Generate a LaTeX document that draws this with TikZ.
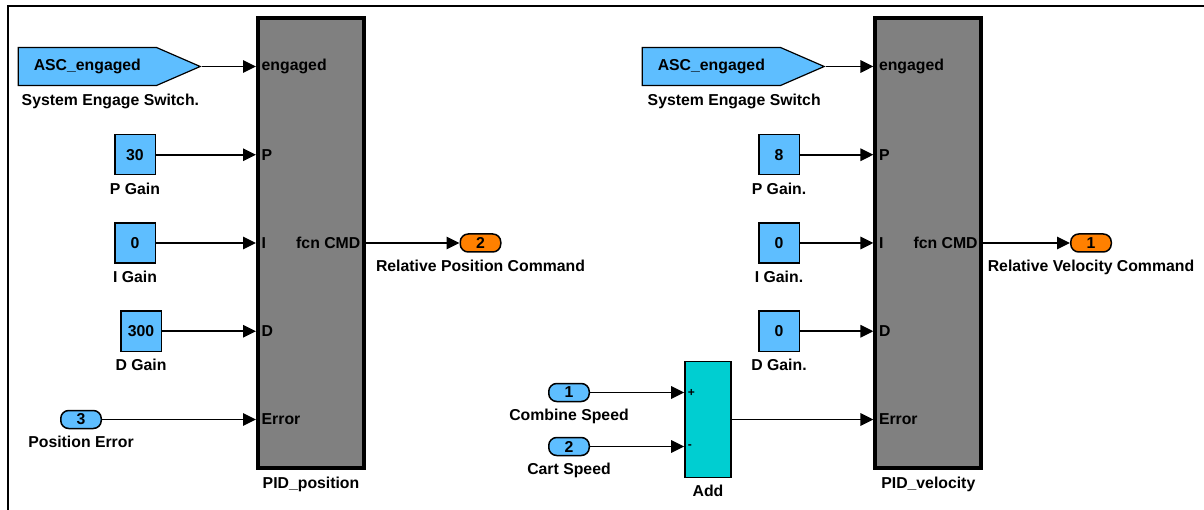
\documentclass[tikz,border=0pt]{standalone}
\usepackage{fontspec}
\setmainfont{Liberation Sans}
\usetikzlibrary{arrows.meta,positioning,shapes.symbols}
\definecolor{SimInk}{HTML}{000000}
\definecolor{SimBlue}{HTML}{5EBEFF}
\definecolor{SimOrange}{HTML}{FF8000}
\definecolor{SimGray}{HTML}{808080}
\definecolor{SimCyan}{HTML}{00CED1}
\tikzset{
  every node/.style={font=\fontsize{15.8}{18}\selectfont\bfseries, text=SimInk},
  pidblock/.style={draw=SimInk, line width=4pt, fill=SimGray, minimum width=106pt, minimum height=450pt, inner sep=0},
  constblock/.style={draw=SimInk, line width=1.5pt, fill=SimBlue, minimum width=40.5pt, minimum height=40pt, inner sep=0},
  inport/.style={draw=SimInk, line width=1.5pt, fill=SimBlue, rounded corners=8pt, minimum width=40.5pt, minimum height=18pt, inner sep=0},
  outport/.style={inport, fill=SimOrange},
  gototag/.style={shape=signal, signal to=east, signal from=nowhere, signal pointer angle=47, draw=SimInk, line width=1.2pt, fill=SimBlue, minimum width=182pt, minimum height=38pt, inner sep=0},
  sumblock/.style={draw=SimInk, line width=1.5pt, fill=SimCyan, minimum width=46pt, minimum height=116pt, inner sep=0},
  portin/.style={anchor=west, inner xsep=5.5pt, inner ysep=0},
  portout/.style={anchor=east, inner xsep=5.5pt, inner ysep=0},
  sumsign/.style={portin, inner xsep=3.5pt, font=\fontsize{12}{14}\selectfont\bfseries},
  blocklabel/.style={inner sep=0},
  wire/.style={-{Triangle[length=13pt,width=12.5pt]}, draw=SimInk, line width=1.7pt},
  frame/.style={draw=SimInk, line width=2.5pt},
}

\begin{document}
\begin{tikzpicture}[x=1pt,y=-1pt]
  \useasboundingbox (0,0) rectangle (1204,510);
  % Window edge
  \draw[frame] (8,510) -- (8,6) -- (1204,6);

  % PID blocks
  \node[pidblock] (pidA) at (311,243) {};
  \node[pidblock] (pidB) at (928.3,243) {};
  \node[blocklabel, below=7pt of pidA] (lblPidA) {PID\_position};
  \node[blocklabel, below=7pt of pidB] (lblPidB) {PID\_velocity};

  % Port names inside both blocks
  \foreach \blk/\x in {A/256, B/873.3} {
    \foreach \p/\t/\y in {eng/engaged/66.5, p/P/154.75, i/I/243, d/D/331.25, err/Error/419.5}
      \node[portin] (p\blk\p) at (\x,\y) {\t};
  }
  \node[portout] (pAcmd) at (366,243) {fcn CMD};
  \node[portout] (pBcmd) at (983.3,243) {fcn CMD};

  % Position loop sources
  \node[gototag, anchor=east] (tagA) at (201.7,66.5) {ASC\_engaged};
  \node[blocklabel, anchor=north] (lblTagA) at (110.4,93.5) {System Engage Switch.};
  \node[constblock] (kPA) at (135,154.75) {30};
  \node[blocklabel, below=7pt of kPA] (lblPA) {P Gain};
  \node[constblock] (kIA) at (135,243) {0};
  \node[blocklabel, below=7pt of kIA] (lblIA) {I Gain};
  \node[constblock] (kDA) at (141,331.25) {300};
  \node[blocklabel, below=7pt of kDA] (lblDA) {D Gain};
  \node[inport] (inA) at (81,419.5) {3};
  \node[blocklabel, below=7pt of inA] (lblInA) {Position Error};
  \node[outport] (outA) at (480.5,243) {2};
  \node[blocklabel, below=7pt of outA] (lblOutA) {Relative Position Command};

  % Velocity loop sources
  \node[gototag, anchor=east] (tagB) at (825.7,66.5) {ASC\_engaged};
  \node[blocklabel, anchor=north] (lblTagB) at (734.2,93.5) {System Engage Switch};
  \node[constblock] (kPB) at (779,154.75) {8};
  \node[blocklabel, below=7pt of kPB] (lblPB) {P Gain.};
  \node[constblock] (kIB) at (779,243) {0};
  \node[blocklabel, below=7pt of kIB] (lblIB) {I Gain.};
  \node[constblock] (kDB) at (779,331.25) {0};
  \node[blocklabel, below=7pt of kDB] (lblDB) {D Gain.};
  \node[outport] (outB) at (1091,243) {1};
  \node[blocklabel, below=7pt of outB] (lblOutB) {Relative Velocity Command};

  % Speed difference
  \node[sumblock] (sumAdd) at (708,419.5) {};
  \node[blocklabel, below=7pt of sumAdd] (lblAdd) {Add};
  \node[sumsign] (addP) at (684.2,392.5) {+};
  \node[sumsign] (addM) at (684.2,446.5) {-};
  \node[inport] (inS1) at (569,392.5) {1};
  \node[blocklabel, below=7pt of inS1] (lblS1) {Combine Speed};
  \node[inport] (inS2) at (569,446.5) {2};
  \node[blocklabel, below=7pt of inS2] (lblS2) {Cart Speed};

  % Signal lines
  \foreach \src/\dst in {tagA/pAeng, kPA/pAp, kIA/pAi, kDA/pAd, inA/pAerr,
                         tagB/pBeng, kPB/pBp, kIB/pBi, kDB/pBd, sumAdd/pBerr,
                         inS1/addP, inS2/addM, pAcmd/outA, pBcmd/outB}
    \draw[wire] (\src.east) -- (\dst.west);
\end{tikzpicture}
\end{document}
